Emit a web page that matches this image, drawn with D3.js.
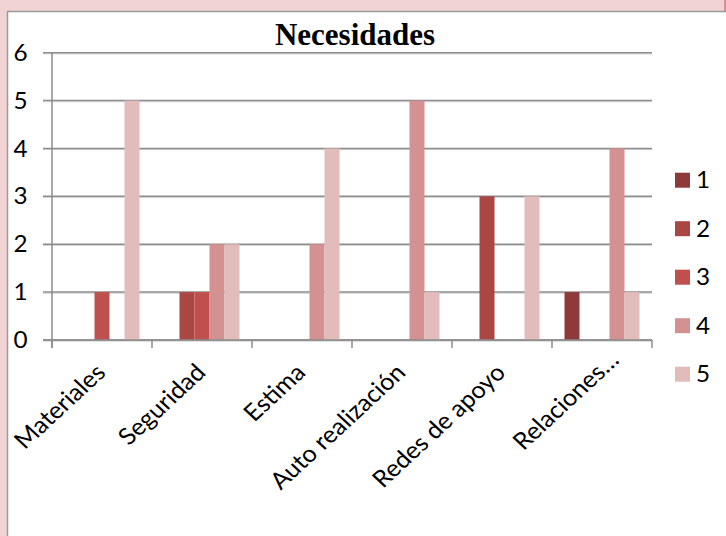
<!DOCTYPE html>
<html><head><meta charset="utf-8">
<script src="https://cdn.jsdelivr.net/npm/d3@7"></script>
<style>html,body{margin:0;padding:0;background:#fff;}svg{display:block;}</style>
</head><body>
<script>
const categories = ["Materiales","Seguridad","Estima","Auto realización","Redes de apoyo","Relaciones…"];
const seriesNames = ["1","2","3","4","5"];
const s1 = [0,0,0,0,0,1];
const s2 = [0,1,0,0,3,0];
const s3 = [1,1,0,0,0,0];
const s4 = [0,2,2,5,0,4];
const s5 = [5,2,4,1,3,1];
const seriesValues = [s1,s2,s3,s4,s5];
const yTicks = [0,1,2,3,4,5,6];
const colors = ["#8f3a3a","#aa4745","#c0504d","#d39291","#e2bbbb"];
const chartTitle = "Necesidades";

(function(){
const W = 726, H = 536;
const svg = d3.select("body").append("svg").attr("width", W).attr("height", H);
const font = "Lato, 'Open Sans', sans-serif";
const sx = 1.08;

// frame
svg.append("rect").attr("x",0).attr("y",0).attr("width",W).attr("height",H).attr("fill","#fff");
svg.append("rect").attr("x",0).attr("y",0).attr("width",W).attr("height",11).attr("fill","#f1d3d4");
svg.append("rect").attr("x",0).attr("y",0).attr("width",7).attr("height",H).attr("fill","#f1d3d4");
svg.append("line").attr("x1",7).attr("x2",W).attr("y1",11.5).attr("y2",11.5).attr("stroke","#9a9a9a").attr("stroke-width",1.5);
svg.append("line").attr("x1",7.5).attr("x2",7.5).attr("y1",11).attr("y2",H).attr("stroke","#9a9a9a").attr("stroke-width",1.5);
svg.append("line").attr("x1",725).attr("x2",725).attr("y1",0).attr("y2",11).attr("stroke","#d07a7a").attr("stroke-width",1.5);

const pl = 52, pr = 652, pt = 52.7, pb = 340;
const x0 = d3.scaleBand().domain(categories).range([pl, pr]).padding(0);
const x1 = d3.scaleBand().domain(seriesNames).range([x0.bandwidth()*0.125, x0.bandwidth()*0.875]).padding(0);
const y = d3.scaleLinear().domain([0,6]).range([pb, pt]);

// gridlines
const g = svg.append("g");
yTicks.forEach(t => {
  g.append("line").attr("x1", pl-9).attr("x2", pr).attr("y1", y(t)+1.2).attr("y2", y(t)+1.2).attr("stroke","#d4d4d4").attr("stroke-width",1);
  g.append("line").attr("x1", pl-9).attr("x2", pr).attr("y1", y(t)).attr("y2", y(t)).attr("stroke","#8c8c8c").attr("stroke-width",1.5);
  svg.append("text").attr("transform", `translate(27.5,${y(t)}) scale(${sx},1)`).attr("dy","0.36em").attr("text-anchor","end")
    .attr("font-family", font).attr("font-size", 22.5).attr("fill","#000").text(t);
});
g.append("line").attr("x1", pl).attr("x2", pl).attr("y1", pt).attr("y2", pb+8).attr("stroke","#8c8c8c").attr("stroke-width",1.5);
const bounds = categories.map(c => x0(c)).concat([pr]);
bounds.forEach(b => {
  g.append("line").attr("x1", b).attr("x2", b).attr("y1", pb).attr("y2", pb+8).attr("stroke","#8c8c8c").attr("stroke-width",1.5);
});

// bars
seriesValues.forEach((vals, si) => {
  svg.append("g").selectAll("rect").data(vals.map((v,i)=>({v, c: categories[i]})).filter(d => d.v > 0)).join("rect")
    .attr("x", d => x0(d.c) + x1(seriesNames[si]))
    .attr("y", d => y(d.v))
    .attr("width", x1.bandwidth())
    .attr("height", d => y(0) - y(d.v))
    .attr("fill", colors[si]);
});
svg.append("line").attr("x1", pl-9).attr("x2", pr).attr("y1", pb).attr("y2", pb).attr("stroke","#8c8c8c").attr("stroke-width",1.5);

// x labels
categories.forEach(c => {
  const cx = x0(c) + x0.bandwidth()/2;
  const t = svg.append("text").attr("text-anchor","end").attr("font-family", font).attr("font-size", 23.5).attr("fill","#000").text(c);
  let extra = 0;
  if (c.endsWith("…")) {
    const probe = svg.append("text").attr("font-family", font).attr("font-size", 23.5).text("…");
    extra = probe.node().getComputedTextLength();
    probe.remove();
  }
  t.attr("transform", `translate(${cx+5},${pb+34}) scale(${sx},1) rotate(-45) translate(${extra},0)`);
});

// title
svg.append("text").attr("x", 355).attr("y", 45).attr("text-anchor","middle")
  .attr("font-family","'Liberation Serif', 'Times New Roman', serif").attr("font-weight","bold")
  .attr("font-size", 31).attr("fill","#000").text(chartTitle);

// legend
seriesNames.forEach((s, i) => {
  const ly = 180.2 + i*48.5;
  svg.append("rect").attr("x", 675).attr("y", ly-7.5).attr("width", 15).attr("height", 15).attr("fill", colors[i]);
  svg.append("text").attr("transform", `translate(696,${ly}) scale(${sx},1)`).attr("dy","0.36em").attr("font-family", font).attr("font-size", 22.5).attr("fill","#000").text(s);
});
})();
</script>
</body></html>
